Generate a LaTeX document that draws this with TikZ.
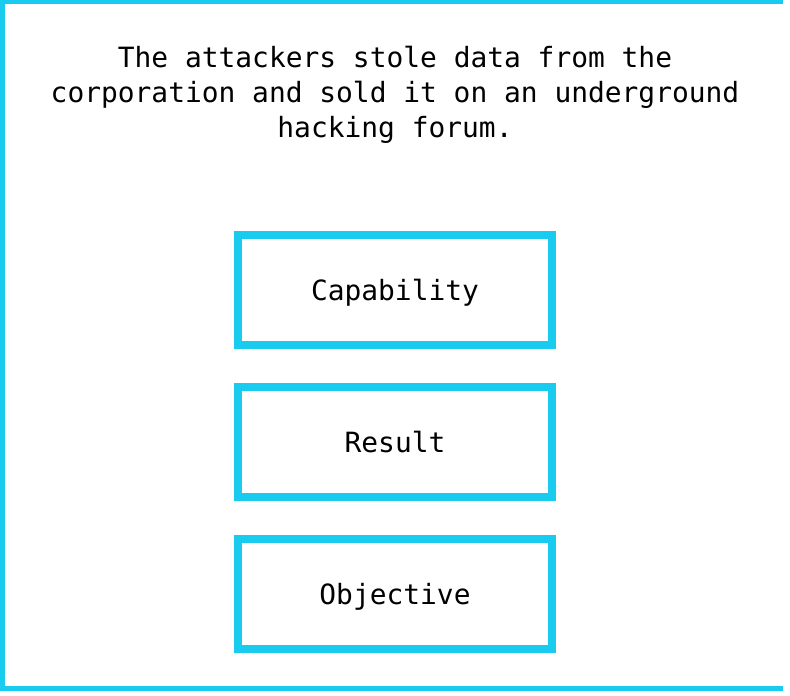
\documentclass[tikz,border=0pt]{standalone}
\usepackage{fontspec}
\setmonofont{DejaVu Sans Mono}
\usetikzlibrary{positioning}
\definecolor{framecyan}{RGB}{26,203,240}
\tikzset{
  stage/.style={draw=framecyan, line width=8bp, minimum width=314bp,
    minimum height=110bp, outer sep=0pt, inner sep=0pt,
    text height=21bp, text depth=1bp,
    font=\ttfamily\fontsize{28}{35}\selectfont},
}
\begin{document}
\begin{tikzpicture}[x=1bp, y=-1bp, node distance=42bp]
            \useasboundingbox (0, 0) rectangle (790, 696);

            \draw[framecyan, line width=4.5bp] (783, 2.25) -- (2.25, 2.25) -- (2.25, 688.5) -- (783, 688.5);

            \node[align=center, font=\ttfamily\fontsize{28}{35}\selectfont] (story) at (395, 95)
                {The attackers stole data from the\\corporation and sold it on an underground\\hacking forum.};

            \node[stage] (capability) at (395, 290) {Capability};
            \node[stage, below=of capability] (result) {Result};
            \node[stage, below=of result] (objective) {Objective};
        \end{tikzpicture}
\end{document}
